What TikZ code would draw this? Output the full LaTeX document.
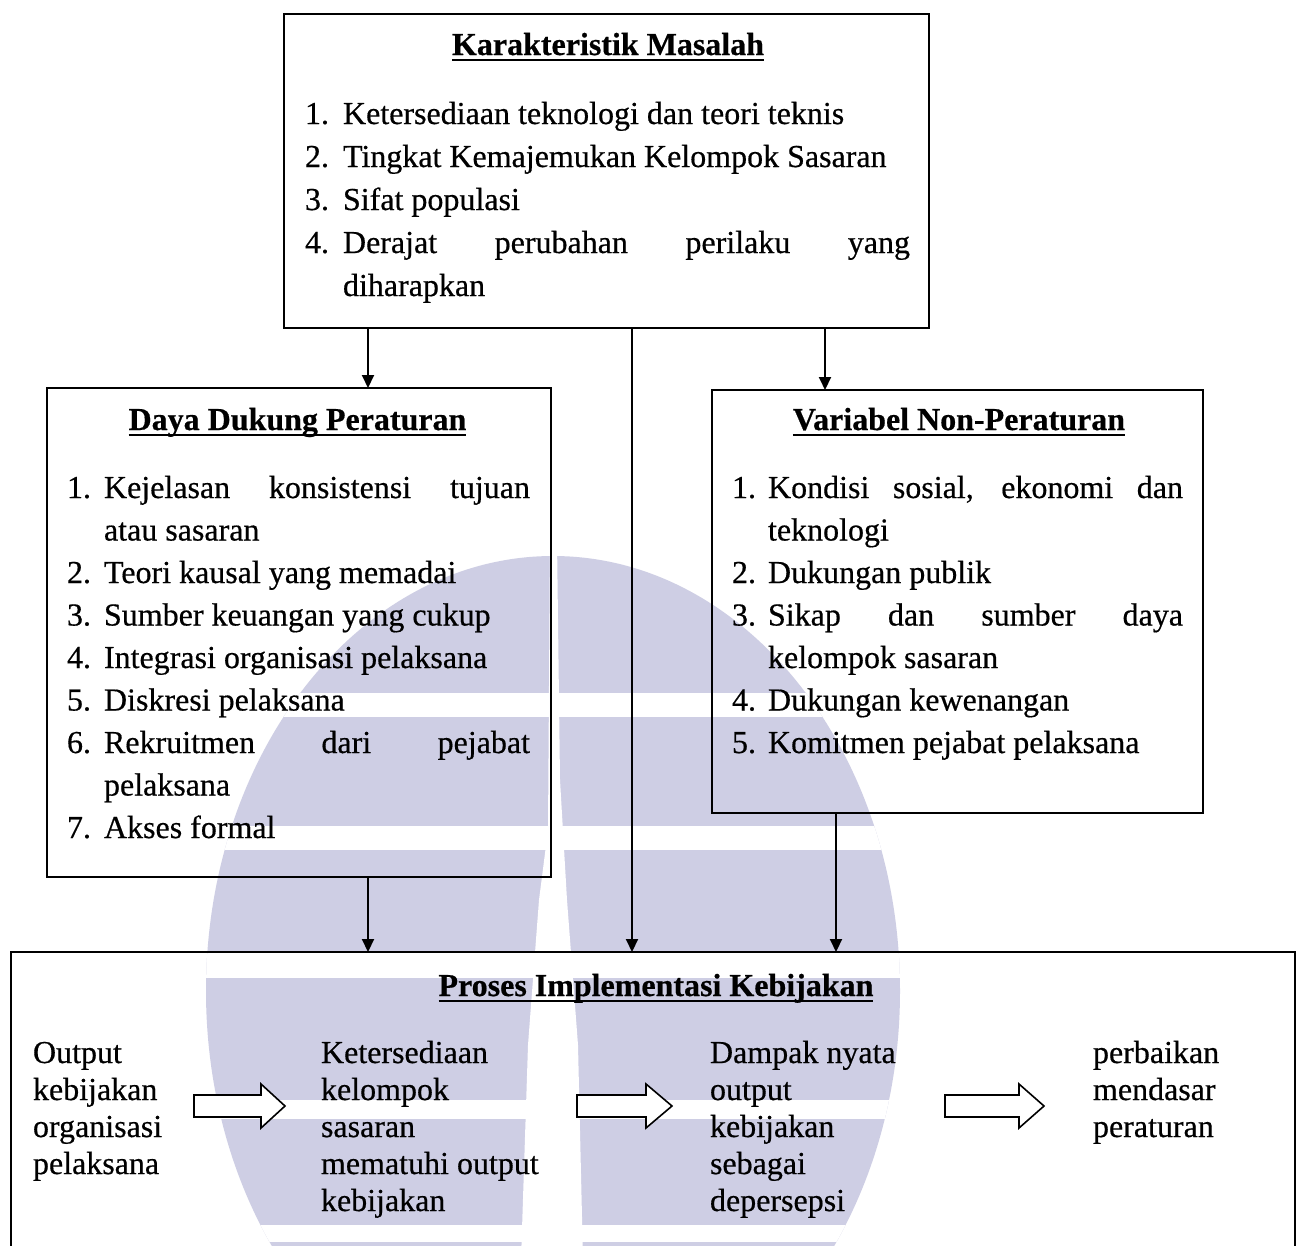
\documentclass[tikz,border=0pt]{standalone}
\usepackage{fontspec}
\setmainfont{Liberation Serif}[FakeBold=0.5]
\usetikzlibrary{arrows.meta}
\definecolor{wmark}{RGB}{206,206,228}
\newcommand{\fsz}{\fontsize{32}{37}\selectfont}

\begin{document}
\begin{tikzpicture}[x=1pt,y=-1pt,
  frame/.style={draw=black, line width=2pt, inner sep=0pt, outer sep=0pt},
  txt/.style={anchor=base west, inner sep=0pt, outer sep=0pt, font=\fsz},
  ttl/.style={anchor=base, inner sep=0pt, outer sep=0pt, font=\fsz\bfseries},
  uline/.style={line width=2.6pt},
  link/.style={line width=2pt, -{Triangle[length=13pt,width=12pt]}},
  blockarrow/.style={draw=black, line width=1.6pt, fill=white, line join=miter}
]
% page area
\clip (0,0) rectangle (1300,1245);
\fill[white] (0,0) rectangle (1300,1245);

% faint oval emblem in the background
\begin{scope}
  \clip (553,991) ellipse[x radius=347pt, y radius=435pt];
  \fill[wmark] (0,500) rectangle (1300,1300);
  \foreach \ya/\yb in {693/717, 826/850, 953/978, 1100/1119, 1225/1242}
    \fill[white] (0,\ya) rectangle (1300,\yb);
  \fill[white] (550,540) -- (548,830) -- (539,900) -- (528,1045) -- (521,1260)
    -- (583,1260) -- (578,1045) -- (567,900) -- (560,780) -- (557,540) -- cycle;
\end{scope}

% frames
\node[frame, minimum width=645pt, minimum height=314pt] (km) at (606.5,171) {};
\node[frame, minimum width=504pt, minimum height=489pt] (daya) at (299,632.5) {};
\node[frame, minimum width=491pt, minimum height=423pt] (var) at (957.5,601.5) {};
\node[frame, minimum width=1284pt, minimum height=310pt] (proses) at (653,1107) {};

% connector columns
\coordinate (cL) at (368,0);
\coordinate (cM) at (632,0);
\coordinate (cR) at (825,0);
\coordinate (cV) at (836,0);
\draw[link] (km.south -| cL) -- (daya.north -| cL);
\draw[link] (km.south -| cM) -- (proses.north -| cM);
\draw[link] (km.south -| cR) -- (var.north -| cR);
\draw[link] (daya.south -| cL) -- (proses.north -| cL);
\draw[link] (var.south -| cV) -- (proses.north -| cV);

% Karakteristik Masalah
\node[ttl] (kmT) at (608,55) {Karakteristik Masalah};
\draw[uline] ([yshift=-5pt]kmT.base west) -- ([yshift=-5pt]kmT.base east);
\foreach \n [count=\i] in {1,2,3,4}
  \node[txt] (kmN\i) at (305,{124+43*(\i-1)}) {\n.};
\node[txt] (kmA) at (343,124) {Ketersediaan teknologi dan teori teknis};
\node[txt] (kmB) at (343,167) {Tingkat Kemajemukan Kelompok Sasaran};
\node[txt] (kmC) at (343,210) {Sifat populasi};
\node[txt] (kmD) at (343,253) {\makebox[567pt][s]{Derajat perubahan perilaku yang}};
\node[txt] (kmE) at (343,296) {diharapkan};

% Daya Dukung Peraturan
\node[ttl] (dyT) at (297.5,430) {Daya Dukung Peraturan};
\draw[uline] ([yshift=-5pt]dyT.base west) -- ([yshift=-5pt]dyT.base east);
\node[txt] (dyN1) at (67,498) {1.};
\node[txt] (dyN2) at (67,583) {2.};
\node[txt] (dyN3) at (67,625.5) {3.};
\node[txt] (dyN4) at (67,668) {4.};
\node[txt] (dyN5) at (67,710.5) {5.};
\node[txt] (dyN6) at (67,753) {6.};
\node[txt] (dyN7) at (67,838) {7.};
\node[txt] (dyA) at (104,498) {\makebox[426pt][s]{Kejelasan konsistensi tujuan}};
\node[txt] (dyA2) at (104,540.5) {atau sasaran};
\node[txt] (dyB) at (104,583) {Teori kausal yang memadai};
\node[txt] (dyC) at (104,625.5) {Sumber keuangan yang cukup};
\node[txt] (dyD) at (104,668) {Integrasi organisasi pelaksana};
\node[txt] (dyE) at (104,710.5) {Diskresi pelaksana};
\node[txt] (dyF) at (104,753) {\makebox[426pt][s]{Rekruitmen dari pejabat}};
\node[txt] (dyF2) at (104,795.5) {pelaksana};
\node[txt] (dyG) at (104,838) {Akses formal};

% Variabel Non-Peraturan
\node[ttl] (vrT) at (959,430) {Variabel Non-Peraturan};
\draw[uline] ([yshift=-5pt]vrT.base west) -- ([yshift=-5pt]vrT.base east);
\node[txt] (vrN1) at (732,498) {1.};
\node[txt] (vrN2) at (732,583) {2.};
\node[txt] (vrN3) at (732,625.5) {3.};
\node[txt] (vrN4) at (732,710.5) {4.};
\node[txt] (vrN5) at (732,753) {5.};
\node[txt] (vrA) at (768,498) {\makebox[415pt][s]{Kondisi sosial, ekonomi dan}};
\node[txt] (vrA2) at (768,540.5) {teknologi};
\node[txt] (vrB) at (768,583) {Dukungan publik};
\node[txt] (vrC) at (768,625.5) {\makebox[415pt][s]{Sikap dan sumber daya}};
\node[txt] (vrC2) at (768,668) {kelompok sasaran};
\node[txt] (vrD) at (768,710.5) {Dukungan kewenangan};
\node[txt] (vrE) at (768,753) {Komitmen pejabat pelaksana};

% Proses Implementasi Kebijakan
\node[ttl] (prT) at (656,996) {Proses Implementasi Kebijakan};
\draw[uline] ([yshift=-5pt]prT.base west) -- ([yshift=-5pt]prT.base east);
\foreach \t [count=\i] in {Output, kebijakan, organisasi, pelaksana}
  \node[txt] (pa\i) at (33,{1063+37*(\i-1)}) {\t};
\foreach \t [count=\i] in {Ketersediaan, kelompok, sasaran, mematuhi output, kebijakan}
  \node[txt] (pb\i) at (321,{1063+37*(\i-1)}) {\t};
\foreach \t [count=\i] in {Dampak nyata, output, kebijakan, sebagai, depersepsi}
  \node[txt] (pc\i) at (710,{1063+37*(\i-1)}) {\t};
\foreach \t [count=\i] in {perbaikan, mendasar, peraturan}
  \node[txt] (pd\i) at (1093,{1063+37*(\i-1)}) {\t};

% hollow block arrows between the stages
\foreach \xa/\xh/\xt in {194/261/285, 577/646/672, 945/1019/1044}
  \draw[blockarrow] (\xa,1095) -- (\xh,1095) -- (\xh,1084) -- (\xt,1106)
    -- (\xh,1128) -- (\xh,1117) -- (\xa,1117) -- cycle;
\end{tikzpicture}
\end{document}
